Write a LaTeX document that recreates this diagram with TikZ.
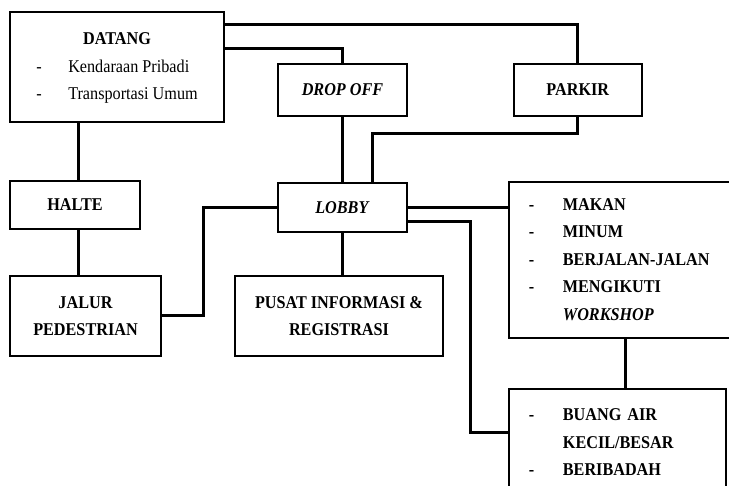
\documentclass[tikz,border=0pt]{standalone}
\usepackage{fontspec}
\setmainfont{Liberation Serif}[FakeStretch=0.9]
\usetikzlibrary{positioning, calc}

\newcommand{\bigsize}{\fontsize{18}{27.5}\selectfont}

\begin{document}
\begin{tikzpicture}[x=1pt, y=-1pt, line width=3pt]
	\tikzstyle{box} = [draw, rectangle, line width=1.8pt, inner sep=0pt, font=\bigsize\bfseries];
	\tikzstyle{listbox} = [box, anchor=north west, inner xsep=20pt, align=left];
	
	\useasboundingbox (0,0) rectangle (729,486);
	\clip (0,0) rectangle (729,486);
	
	\node[box, font=\bigsize, minimum width=214pt, minimum height=110pt] (datang) at (117,67) {\begin{tabular}{@{}l@{\hspace{26.6pt}}l@{}}
			\multicolumn{2}{c}{\textbf{DATANG}}\\
			- & Kendaraan Pribadi\\
			- & Transportasi Umum
		\end{tabular}};
	\node[box, minimum width=129pt, minimum height=52pt] (dropoff) at (342.5,90) {\textit{DROP OFF}};
	\node[box, minimum width=128pt, minimum height=52pt, right = 105pt of dropoff] (parkir) {PARKIR};
	\node[box, minimum width=129pt, minimum height=49pt, below = 65pt of dropoff] (lobby) {\textit{LOBBY}};
	\node[box, minimum width=130pt, minimum height=48pt] (halte) at (75,205) {HALTE};
	\node[box, minimum width=151pt, minimum height=80pt, align=center] (jalur) at (85.5,316) {JALUR\\PEDESTRIAN};
	\node[box, minimum width=208pt, minimum height=80pt, align=center] (pusat) at (339,316) {PUSAT INFORMASI \&\\REGISTRASI};
	
	\node[listbox, minimum width=234pt, minimum height=156pt, text width=194pt] (makan) at (508,181) {\begin{tabular}{@{}l@{\hspace{28.6pt}}l@{}}
			- & MAKAN\\
			- & MINUM\\
			- & BERJALAN-JALAN\\
			- & MENGIKUTI\\
			  & \textit{WORKSHOP}
		\end{tabular}};
	\node[listbox, minimum width=217pt, minimum height=108pt, text width=177pt] (buang) at (508,388) {\begin{tabular}{@{}l@{\hspace{28.6pt}}l@{}}
			- & BUANG AIR\\
			  & KECIL/BESAR\\
			- & BERIBADAH
		\end{tabular}};
	
	\draw ($(datang.north east)+(0,13)$) -| (parkir.north);
	\draw ($(datang.north east)+(0,37)$) -| (dropoff.north);
	\draw (dropoff) -- (lobby);
	\draw (parkir.south) -- ++(0,17) -| ($(lobby.north east)+(-35,0)$);
	
	\draw ($(datang.south west)+(69,0)$) -- ($(halte.north west)+(69,0)$);
	\draw ($(halte.south west)+(69,0)$) -- ($(jalur.north west)+(69,0)$);
	\draw (jalur.east) -- ++(42,0) |- (lobby.west);
	\draw (lobby.south) -- (lobby.south |- pusat.north);
	
	\draw (lobby.east) -- (lobby.east -| makan.west);
	\draw ($(lobby.east)+(0,14)$) -- ++(63,0) |- ($(buang.north west)+(0,45)$);
	\draw (makan.south) -- (makan.south |- buang.north);
	
\end{tikzpicture}
\end{document}
